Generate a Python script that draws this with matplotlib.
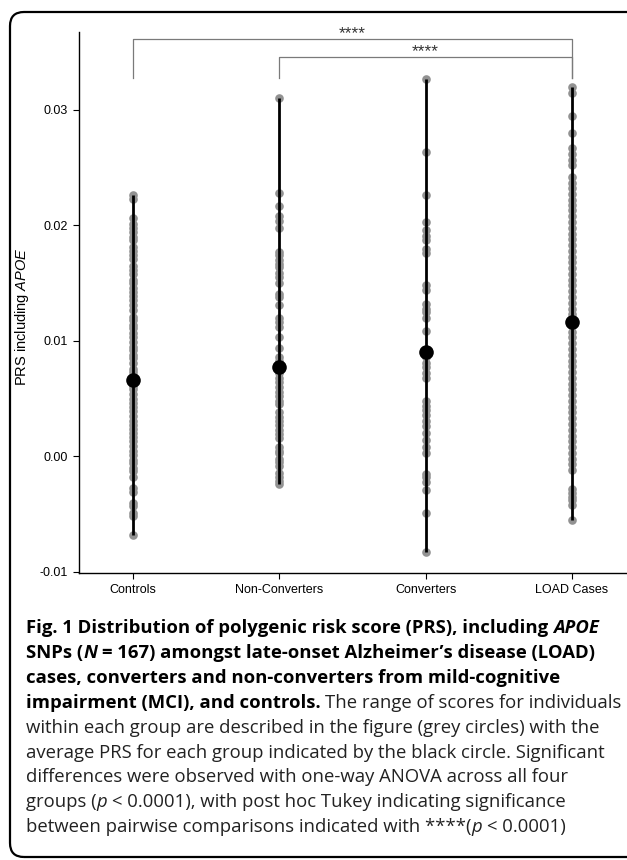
import numpy as np
import matplotlib.pyplot as plt
from matplotlib.patches import FancyBboxPatch
from matplotlib.transforms import IdentityTransform

plt.rcParams['font.family'] = ['Liberation Sans', 'DejaVu Sans']
plt.rcParams['mathtext.fontset'] = 'custom'
plt.rcParams['mathtext.rm'] = 'Liberation Sans'
plt.rcParams['mathtext.it'] = 'Liberation Sans:italic'

# DADOS
grupos = ['Controls', 'Non-Converters', 'Converters', 'LOAD Cases']

controls = [0.0226, 0.0223, 0.0206, 0.0201, 0.0198, 0.0194, 0.0190, 0.0187, 0.0181, 0.0178,
            0.0174, 0.0171, 0.0165, 0.0161, 0.0158, 0.0153, 0.0150, 0.0146, 0.0142, 0.0139,
            0.0135, 0.0131, 0.0127, 0.0121, 0.0118, 0.0114, 0.0111, 0.0107, 0.0103, 0.0099,
            0.0095, 0.0092, 0.0088, 0.0085, 0.0081, 0.0076, 0.0073, 0.0069, 0.0065, 0.0061,
            0.0058, 0.0054, 0.0050, 0.0046, 0.0043, 0.0039, 0.0035, 0.0031, 0.0027, 0.0024,
            0.0020, 0.0017, 0.0013, 0.0009, 0.0005, 0.0001, -0.0003, -0.0006, -0.0010, -0.0013,
            -0.0018, -0.0027, -0.0031, -0.0040, -0.0043, -0.0049, -0.0052, -0.0068]

non_converters = [0.0310, 0.0228, 0.0217, 0.0208, 0.0204, 0.0198, 0.0177, 0.0174, 0.0170, 0.0167,
                  0.0164, 0.0159, 0.0155, 0.0150, 0.0141, 0.0138, 0.0131, 0.0120, 0.0116, 0.0112,
                  0.0103, 0.0094, 0.0086, 0.0083, 0.0075, 0.0072, 0.0068, 0.0064, 0.0060, 0.0056,
                  0.0052, 0.0048, 0.0045, 0.0038, 0.0034, 0.0031, 0.0027, 0.0023, 0.0019, 0.0016,
                  0.0008, 0.0005, 0.0003, -0.0002, -0.0005, -0.0008, -0.0014, -0.0018, -0.0021, -0.0024]

converters = [0.0327, 0.0264, 0.0226, 0.0203, 0.0196, 0.0191, 0.0187, 0.0180, 0.0176, 0.0148,
              0.0144, 0.0132, 0.0128, 0.0125, 0.0120, 0.0109, 0.0086, 0.0081, 0.0077, 0.0072,
              0.0068, 0.0048, 0.0044, 0.0040, 0.0036, 0.0031, 0.0026, 0.0020, 0.0014, 0.0008,
              0.0003, -0.0015, -0.0018, -0.0022, -0.0029, -0.0049, -0.0083]

load_cases = [0.0320, 0.0315, 0.0295, 0.0280, 0.0267, 0.0262, 0.0257, 0.0252, 0.0242, 0.0237,
              0.0232, 0.0227, 0.0222, 0.0218, 0.0213, 0.0208, 0.0203, 0.0198, 0.0193, 0.0188,
              0.0183, 0.0178, 0.0173, 0.0168, 0.0163, 0.0158, 0.0153, 0.0148, 0.0143, 0.0138,
              0.0133, 0.0128, 0.0123, 0.0118, 0.0113, 0.0108, 0.0103, 0.0098, 0.0093, 0.0088,
              0.0083, 0.0078, 0.0073, 0.0068, 0.0063, 0.0058, 0.0053, 0.0048, 0.0043, 0.0038,
              0.0033, 0.0028, 0.0023, 0.0018, 0.0013, 0.0008, 0.0003, -0.0002, -0.0007, -0.0012,
              -0.0028, -0.0032, -0.0035, -0.0038, -0.0042, -0.0055]

medias = [0.0066, 0.0077, 0.0090, 0.0116]

yticks = [-0.01, 0.00, 0.01, 0.02, 0.03]
ytick_labels = ['-0.01', '0.00', '0.01', '0.02', '0.03']

# pares com diferença significativa (índices dos grupos) e rótulo
comparacoes = [(0, 3, '****'), (1, 3, '****')]

dados = [controls, non_converters, converters, load_cases]

# FIGURA
W, H = 627, 860
fig = plt.figure(figsize=(W / 100, H / 100), dpi=100)
ax = fig.add_axes([79 / W, 1 - 573 / H, (626 - 79) / W, (573 - 32) / H])

for i, valores in enumerate(dados):
    x = i + 1
    ax.plot([x] * len(valores), valores, 'o', color='#929292', ms=6.2, mec='none', zorder=2)
    ax.plot([x, x], [min(valores), max(valores)], color='black', lw=2.0, zorder=3,
            solid_capstyle='butt')
    ax.plot(x, medias[i], 'o', color='black', ms=10.5, mec='none', zorder=4)

ax.set_xlim(0.63, 4.37)
ax.set_ylim(-0.0101, 0.03675)
ax.set_xticks(range(1, len(grupos) + 1))
ax.set_xticklabels(grupos)
ax.set_yticks(yticks)
ax.set_yticklabels(ytick_labels)
ax.tick_params(length=4, width=0.8, labelsize=9, colors='black')
ax.tick_params(axis='x', pad=4)
ax.tick_params(axis='y', pad=4)
for lado in ['top', 'right']:
    ax.spines[lado].set_visible(False)
for lado in ['left', 'bottom']:
    ax.spines[lado].set_linewidth(1.0)
    ax.spines[lado].set_color('black')

# colchetes de significância
alturas = [0.03615, 0.03459]
base_colchete = 0.0328
for (a, b, rotulo), h in zip(comparacoes, alturas):
    xa, xb = a + 1, b + 1
    ax.plot([xa, xa, xb, xb], [base_colchete, h, h, base_colchete], color='#7a7a7a', lw=0.9,
            clip_on=False, zorder=1)
    ax.annotate(rotulo, xy=((xa + xb) / 2, h), xytext=(0, 0.5), textcoords='offset points',
                ha='center', va='baseline', fontsize=12.5, color='#333333', annotation_clip=False)

fig.text(22 / W, 1 - 317 / H, r'PRS including $\mathit{APOE}$', rotation=90,
         ha='center', va='center', fontsize=10.5)

# borda arredondada
borda = FancyBboxPatch((10, H - 857), 700, 845, boxstyle='round,pad=0,rounding_size=14',
                       transform=IdentityTransform(), fill=False, ec='black', lw=1.6,
                       clip_on=False)
fig.patches.append(borda)

# LEGENDA DA FIGURA
cap_ax = fig.add_axes([0, 0, 1, 1])
cap_ax.axis('off')
cap_ax.patch.set_alpha(0)
tam = 13.3
fonte = 'Open Sans'


def escreve_linha(y_px, partes):
    anterior = None
    for texto, peso, estilo, espaco in partes:
        cor = 'black' if peso == 'bold' else '#222222'
        props = dict(fontsize=tam, fontweight=peso, fontstyle=estilo, family=[fonte, 'DejaVu Sans'],
                     color=cor)
        if anterior is None:
            anterior = cap_ax.text(26 / W, 1 - y_px / H, texto, transform=fig.transFigure,
                                   ha='left', va='baseline', **props)
        else:
            dx = 0.26 * tam if espaco else 0
            anterior = cap_ax.annotate(texto, xy=(1, 0), xycoords=anterior, xytext=(dx, 0),
                                       textcoords='offset points', ha='left', va='bottom',
                                       annotation_clip=False, **props)


B, R, I = 'bold', 'normal', 'italic'
linhas = [
    [('Fig. 1 Distribution of polygenic risk score (PRS), including', B, 'normal', False),
     ('APOE', B, I, True)],
    [('SNPs (', B, 'normal', False), ('N', B, I, False),
     ('= 167) amongst late-onset Alzheimer\u2019s disease (LOAD)', B, 'normal', True)],
    [('cases, converters and non-converters from mild-cognitive', B, 'normal', False)],
    [('impairment (MCI), and controls.', B, 'normal', False),
     ('The range of scores for individuals', R, 'normal', True)],
    [('within each group are described in the figure (grey circles) with the', R, 'normal', False)],
    [('average PRS for each group indicated by the black circle. Significant', R, 'normal', False)],
    [('differences were observed with one-way ANOVA across all four', R, 'normal', False)],
    [('groups (', R, 'normal', False), ('p', R, I, False),
     ('< 0.0001), with post hoc Tukey indicating significance', R, 'normal', True)],
    [('between pairwise comparisons indicated with ****(', R, 'normal', False), ('p', R, I, False),
     ('< 0.0001)', R, 'normal', True)],
]
for k, partes in enumerate(linhas):
    escreve_linha(633 + 24.9 * k, partes)

fig.savefig('out.png', dpi=100)
